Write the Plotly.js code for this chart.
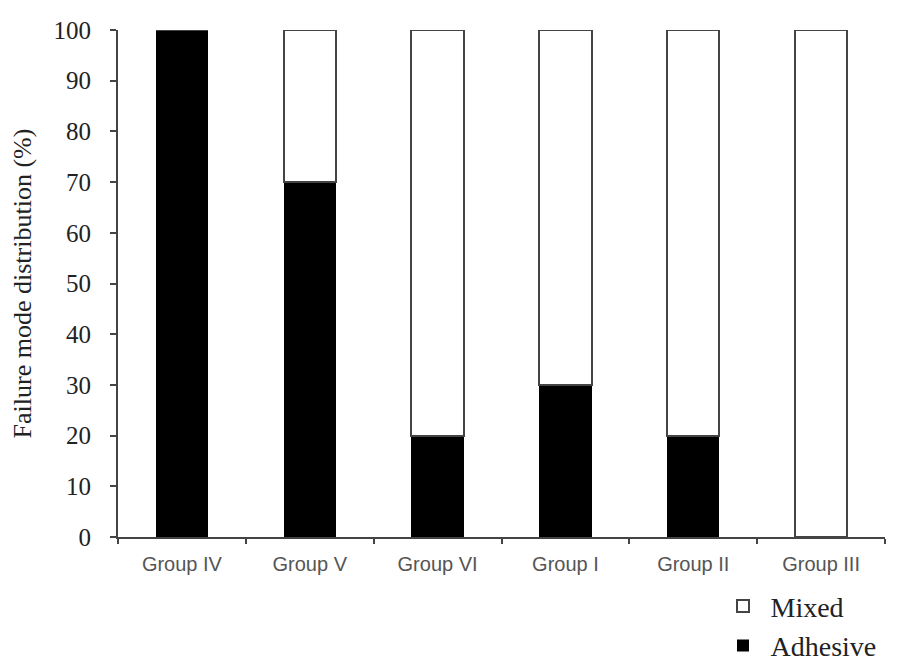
<!DOCTYPE html>
<html>
<head>
<meta charset="utf-8">
<script src="https://cdn.plot.ly/plotly-3.0.1.min.js"></script>
<style>
  html, body { margin: 0; padding: 0; background: #fff; }
  #chart { width: 900px; height: 672px; }
</style>
</head>
<body>
<div id="chart"></div>
<script>
// groups in the order they appear on the x axis
const groups = ["Group IV", "Group V", "Group VI", "Group I", "Group II", "Group III"];
// failure mode shares, percent
const adhesive = [100, 70, 20, 30, 20, 0];
const mixed = [0, 30, 80, 70, 80, 100];

const serif = "Liberation Serif, DejaVu Serif, serif";
const sans = "Liberation Sans, Arial, sans-serif";

const data = [
  {
    type: "bar",
    name: "Adhesive",
    x: groups,
    y: adhesive,
    width: 0.41,
    marker: { color: "#000", line: { width: 0 } },
  },
  {
    type: "bar",
    name: "Mixed",
    x: groups,
    y: mixed,
    width: 0.41,
    marker: { color: "#fff", line: { color: "#444", width: 2 } },
  },
];

const layout = {
  width: 900,
  height: 672,
  margin: { l: 118, r: 15, t: 30, b: 135, autoexpand: false },
  paper_bgcolor: "#fff",
  plot_bgcolor: "#fff",
  barmode: "stack",
  showlegend: true,
  legend: {
    xref: "container",
    yref: "container",
    x: 0.795,
    xanchor: "left",
    y: 0.135,
    yanchor: "top",
    traceorder: "reversed",
    font: { family: serif, size: 28, color: "#222" },
    itemwidth: 45,
    tracegroupgap: 2,
  },
  xaxis: {
    type: "category",
    showline: true,
    linecolor: "#444",
    linewidth: 2,
    ticks: "outside",
    tickson: "boundaries",
    ticklen: 5,
    tickwidth: 2,
    tickcolor: "#444",
    showgrid: false,
    ticklabelstandoff: 8,
    tickfont: { family: sans, size: 20, color: "#555" },
    range: [-0.5, 5.5],
  },
  yaxis: {
    range: [0, 100],
    dtick: 10,
    showline: true,
    linecolor: "#444",
    linewidth: 2,
    ticks: "outside",
    ticklen: 6,
    tickwidth: 2,
    tickcolor: "#444",
    showgrid: false,
    zeroline: false,
    ticklabelstandoff: 14,
    tickfont: { family: serif, size: 25, color: "#222" },
    title: {
      text: "Failure mode distribution (%)",
      font: { family: serif, size: 26, color: "#222" },
      standoff: 14,
    },
  },
};

Plotly.newPlot("chart", data, layout, { displayModeBar: false, staticPlot: true });
</script>
</body>
</html>
